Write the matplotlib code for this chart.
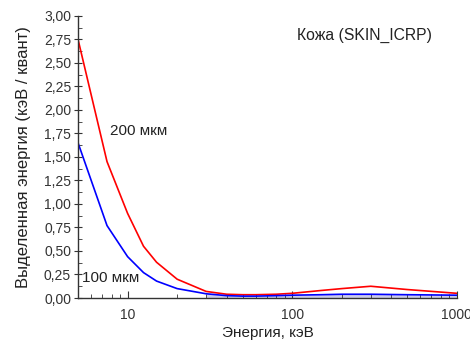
import matplotlib
matplotlib.use("Agg")
import matplotlib.pyplot as plt
from matplotlib.ticker import FixedLocator, MultipleLocator, FuncFormatter, LogLocator, NullFormatter

plt.rcParams['font.family'] = ['Liberation Sans', 'DejaVu Sans']

energy = [5, 7.5, 10, 12.5, 15, 20, 30, 40, 50, 60, 80, 100, 150, 200, 300, 500, 1000]
dose_200 = [2.75, 1.45, 0.90, 0.55, 0.38, 0.20, 0.07, 0.04, 0.035, 0.035, 0.04, 0.05, 0.08, 0.10, 0.125, 0.09, 0.05]
dose_100 = [1.65, 0.77, 0.44, 0.27, 0.18, 0.10, 0.045, 0.025, 0.02, 0.02, 0.025, 0.03, 0.035, 0.04, 0.04, 0.035, 0.03]
yticks = [0, 0.25, 0.5, 0.75, 1.0, 1.25, 1.5, 1.75, 2.0, 2.25, 2.5, 2.75, 3.0]
xticks = [10, 100, 1000]

fig = plt.figure(figsize=(4.7, 3.4), dpi=100)
ax = fig.add_axes([0.166, 0.1235, 0.806, 0.83])

ax.plot(energy, dose_200, color='#ff0000', lw=1.2)
ax.plot(energy, dose_100, color='#0000ff', lw=1.2)
fb = [(e, d) for e, d in zip(energy, dose_100) if e >= 30]
ax.fill_between([p[0] for p in fb], 0, [p[1] for p in fb], color='#7070c8', alpha=0.35, lw=0)

ax.set_xscale('log')
ax.set_xlim(5, 1000)
ax.set_ylim(0, 3.0)
ax.xaxis.set_major_locator(FixedLocator(xticks))
ax.xaxis.set_major_formatter(FuncFormatter(lambda v, p: f"{int(v)}"))
ax.xaxis.set_minor_locator(LogLocator(base=10, subs=range(2, 10)))
ax.xaxis.set_minor_formatter(NullFormatter())
ax.yaxis.set_major_locator(FixedLocator(yticks))
ax.yaxis.set_minor_locator(MultipleLocator(0.125))
ax.yaxis.set_major_formatter(FuncFormatter(lambda v, p: f"{v:.2f}".replace('.', ',')))

for s in ['top', 'right']:
    ax.spines[s].set_visible(False)
for s in ['left', 'bottom']:
    ax.spines[s].set_color('#333333')
    ax.spines[s].set_linewidth(1.0)

ax.tick_params(axis='y', which='major', direction='inout', length=6, labelsize=10, colors='#333333', pad=2)
ax.tick_params(axis='y', which='minor', direction='in', length=3, colors='#333333')
ax.tick_params(axis='x', which='major', direction='in', length=5, labelsize=10, colors='#333333', pad=7)
ax.tick_params(axis='x', which='minor', direction='in', length=3, colors='#333333')

ax.text(7.8, 1.78, '200 мкм', fontsize=11, va='center', ha='left', color='#222222')
ax.text(5.3, 0.21, '100 мкм', fontsize=11, va='center', ha='left', color='#222222')
ax.text(275, 2.79, 'Кожа (SKIN_ICRP)', fontsize=11.3, va='center', ha='center', color='#222222')

ax.set_xlabel('Энергия, кэВ', fontsize=11, color='#222222', labelpad=3)
ax.set_ylabel('Выделенная энергия (кэВ / квант)', fontsize=12, color='#222222', labelpad=9)

fig.savefig('out.png', dpi=100)
